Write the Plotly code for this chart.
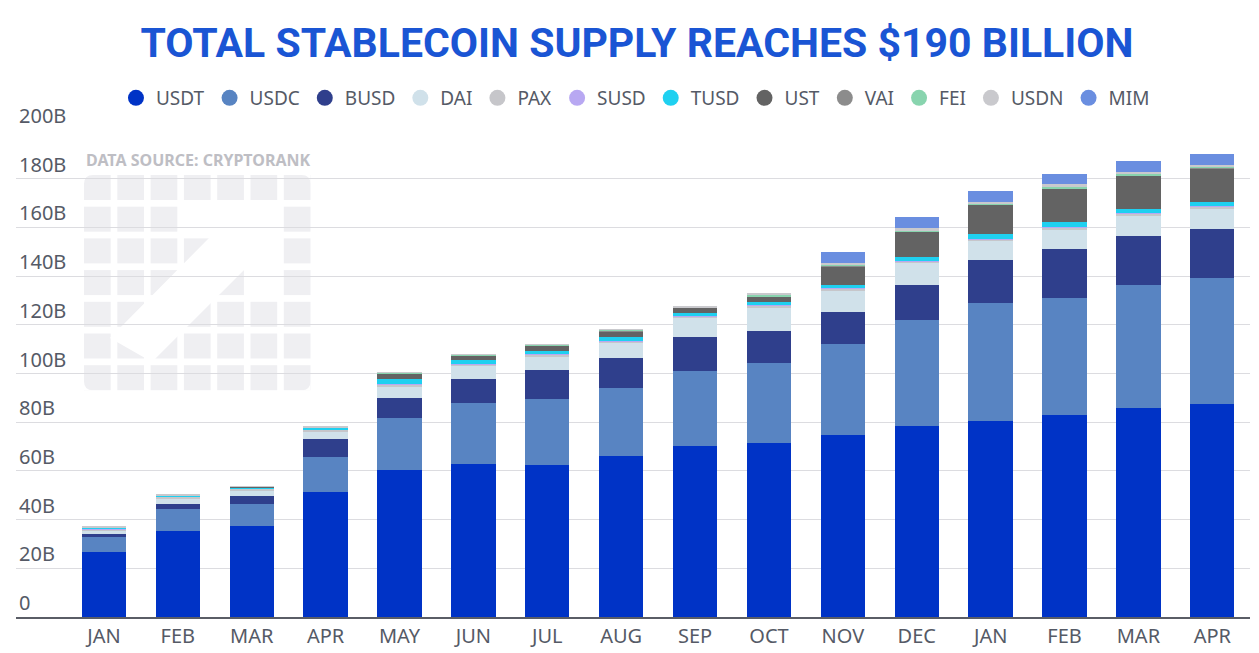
import plotly.graph_objects as go

months = ["JAN", "FEB", "MAR", "APR", "MAY", "JUN", "JUL", "AUG",
          "SEP", "OCT", "NOV", "DEC", "JAN", "FEB", "MAR", "APR"]

# supply per stablecoin, billions of USD
usdt = [26.8, 35.3, 37.5, 51.2, 60.5, 62.8, 62.4, 66.1, 70.2, 71.5, 74.7, 78.5, 80.6, 82.8, 86.0, 87.6]
usdc = [6.2, 9.0, 9.0, 14.5, 21.1, 25.1, 27.3, 27.8, 31.0, 32.7, 37.5, 43.5, 48.4, 48.3, 50.3, 51.8]
busd = [1.0, 2.1, 3.3, 7.3, 8.5, 9.8, 11.9, 12.3, 13.7, 13.3, 12.9, 14.2, 17.5, 20.1, 20.0, 20.1]
dai = [1.7, 2.4, 2.3, 3.2, 4.5, 5.2, 5.3, 6.2, 7.8, 9.5, 8.8, 9.0, 7.8, 7.7, 8.4, 8.2]
pax = [0.4, 0.5, 0.6, 0.7, 0.8, 0.9, 0.9, 0.9, 0.9, 0.9, 0.9, 0.9, 0.9, 0.9, 0.9, 0.9]
susd = [0.1, 0.1, 0.1, 0.2, 0.2, 0.2, 0.2, 0.2, 0.2, 0.2, 0.2, 0.2, 0.2, 0.2, 0.2, 0.2]
tusd = [0.4, 0.4, 0.5, 0.6, 2.0, 1.5, 1.4, 1.5, 1.0, 1.3, 1.3, 1.4, 1.8, 2.1, 1.8, 1.8]
ust = [0.2, 0.2, 0.2, 0.3, 2.2, 1.8, 2.0, 2.3, 2.1, 2.1, 7.8, 10.5, 12.0, 13.7, 13.7, 13.6]
vai = [0, 0, 0, 0, 0.2, 0.2, 0.2, 0.2, 0.1, 0.2, 0.2, 0.2, 0.2, 0.2, 0.2, 0.2]
fei = [0, 0, 0, 0, 0.3, 0.2, 0.3, 0.4, 0.3, 0.5, 0.4, 0.5, 0.5, 0.6, 0.5, 0.5]
usdn = [0.3, 0.2, 0.3, 0.4, 0.3, 0.2, 0.2, 0.2, 0.2, 1.0, 0.5, 0.7, 0.7, 1.1, 0.6, 0.7]
mim = [0, 0, 0, 0, 0, 0, 0, 0, 0, 0, 4.7, 4.5, 4.5, 4.4, 4.7, 4.5]

coins = [
    ("USDT", usdt, "#0033c6"),
    ("USDC", usdc, "#5884c2"),
    ("BUSD", busd, "#2f3f8c"),
    ("DAI", dai, "#d0e1ea"),
    ("PAX", pax, "#c6c6ca"),
    ("SUSD", susd, "#b8a8f2"),
    ("TUSD", tusd, "#1fd0f0"),
    ("UST", ust, "#636363"),
    ("VAI", vai, "#8c8c8c"),
    ("FEI", fei, "#88d4ae"),
    ("USDN", usdn, "#c9c9cd"),
    ("MIM", mim, "#6a8ee0"),
]

x = list(range(len(months)))

fig = go.Figure()
for name, vals, color in coins:
    fig.add_trace(go.Bar(
        x=x, y=vals, name=name, marker=dict(color=color, line=dict(width=0)),
        width=0.6, showlegend=False, hoverinfo="name+y"
    ))
# round legend markers
for name, vals, color in coins:
    fig.add_trace(go.Scatter(
        x=[None], y=[None], mode="markers", name=name,
        marker=dict(color=color, size=16, symbol="circle")
    ))

# the page body has an 8px margin, so the figure is 8px smaller and offset
OFF = 8
W, H = 1259 - OFF, 653 - OFF
# plot area in page pixels
L, R, T, B = 16, 1250, 130, 617
def px(v):
    return (v - L) / (R - L)
def py(v):
    return (B - v) / (B - T)

# faint cryptorank logo watermark
logo_col = "#efeff2"
shapes = []
cx0, cy0, pitch_x, pitch_y, cw, ch = 84, 175, 33.3, 31.7, 26.7, 25.0
missing = {(1, 3), (1, 4), (1, 5), (2, 4), (2, 5), (3, 3), (3, 5), (4, 2)}
for r in range(7):
    for c in range(7):
        if (r, c) in missing:
            continue
        x0 = cx0 + c * pitch_x
        y0 = cy0 + r * pitch_y
        x1, y1 = x0 + cw, y0 + ch
        shapes.append(dict(type="rect", xref="paper", yref="paper",
                           x0=px(x0), x1=px(x1), y0=py(y1), y1=py(y0),
                           fillcolor=logo_col, line=dict(width=0), layer="below"))
pts = [(280, 204), (182, 204), (182, 236), (211, 236), (110, 338),
       (152, 362), (246, 268), (247, 298), (280, 298)]
path = "M " + " L ".join(f"{px(a):.5f},{py(b):.5f}" for a, b in pts) + " Z"
shapes.append(dict(type="path", xref="paper", yref="paper", path=path,
                   fillcolor="white", line=dict(width=0), layer="below"))
# round outer corners of the logo
for (ax, ay) in [(cx0, cy0), (cx0 + 6 * pitch_x + cw, cy0),
                 (cx0, cy0 + 6 * pitch_y + ch), (cx0 + 6 * pitch_x + cw, cy0 + 6 * pitch_y + ch)]:
    sx = 1 if ax == cx0 else -1
    sy = 1 if ay == cy0 else -1
    rr = 9
    p = (f"M {px(ax):.5f},{py(ay):.5f} L {px(ax + sx * rr):.5f},{py(ay):.5f} "
         f"Q {px(ax):.5f},{py(ay):.5f} {px(ax):.5f},{py(ay + sy * rr):.5f} Z")
    shapes.append(dict(type="path", xref="paper", yref="paper", path=p,
                       fillcolor="white", line=dict(width=0), layer="below"))

fig.update_layout(
    width=W, height=H,
    barmode="stack",
    paper_bgcolor="white", plot_bgcolor="white",
    margin=dict(l=L - OFF, r=1259 - R, t=T - OFF, b=653 - B, autoexpand=False),
    font=dict(family="Noto Sans", color="#555a66", size=19),
    title=dict(text="<b>TOTAL STABLECOIN SUPPLY REACHES $190 BILLION</b>",
               x=(637 - OFF) / W, xanchor="center", y=1 - (43 - OFF) / H, yanchor="middle",
               font=dict(family="Roboto", size=41, color="#1a55d4")),
    legend=dict(orientation="h", x=0.502, xanchor="center", y=1 + (T - 98) / (B - T),
                yanchor="middle", font=dict(size=19, color="#555a66"),
                itemwidth=30, tracegroupgap=0, traceorder="normal"),
    xaxis=dict(range=[-1.19, 15.51], tickmode="array", tickvals=x, ticktext=months,
               showgrid=False, showline=True, linecolor="#5a5d66", linewidth=2,
               ticks="", tickfont=dict(size=20, color="#555a66"), zeroline=False,
               automargin=False),
    yaxis=dict(range=[0, 200], tickvals=[0, 20, 40, 60, 80, 100, 120, 140, 160, 180, 200],
               ticktext=["0", "20B", "40B", "60B", "80B", "100B", "120B", "140B",
                         "160B", "180B", "200B"],
               ticklabelposition="inside top", ticklabeloverflow="allow",
               showgrid=True, gridcolor="#dcdce0", gridwidth=1, zeroline=False,
               tickfont=dict(size=20, color="#555a66"), showline=False, ticks="",
               automargin=False),
    shapes=shapes,
    annotations=[dict(text="<b>DATA SOURCE: CRYPTORANK</b>", xref="paper", yref="paper",
                      x=px(84), y=py(160), xanchor="left", yanchor="middle",
                      showarrow=False, font=dict(family="Noto Sans", size=16, color="#bebec4"))],
)

fig.write_html("out.html")
